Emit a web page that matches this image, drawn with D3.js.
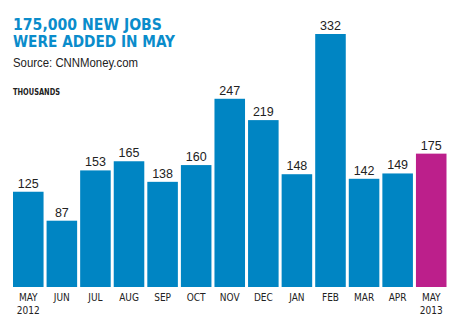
<!DOCTYPE html>
<html>
<head>
<meta charset="utf-8">
<script src="https://cdn.jsdelivr.net/npm/d3@7"></script>
<style>
  html, body { margin: 0; padding: 0; background: #fff; }
  svg { display: block; }
</style>
</head>
<body>
<svg id="chart" width="454" height="328"></svg>
<script>
// Monthly job gains, in thousands
const months = ["MAY", "JUN", "JUL", "AUG", "SEP", "OCT", "NOV", "DEC", "JAN", "FEB", "MAR", "APR", "MAY"];
const years  = ["2012", "", "", "", "", "", "", "", "", "", "", "", "2013"];
const jobs   = [125, 87, 153, 165, 138, 160, 247, 219, 148, 332, 142, 149, 175];

const blue = "#0085c3";
const magenta = "#bc1f8b";
const ink = "#222";
const condensed = "'DejaVu Sans Condensed', 'Liberation Sans Narrow', 'Roboto', sans-serif";

const svg = d3.select("#chart");
const data = months.map((m, i) => ({ key: i, month: m, year: years[i], value: jobs[i] }));

const x = d3.scaleBand()
  .domain(data.map(d => d.key))
  .range([13, 446.5])
  .paddingInner(0.09)
  .paddingOuter(0);

const y = d3.scaleLinear()
  .domain([0, d3.max(jobs)])
  .range([287, 34]);

// Headline
const title = svg.append("g").attr("font-family", condensed).attr("font-weight", "bold")
  .attr("fill", "#0a8ccb").attr("font-size", 15.5);
title.append("text").attr("x", 13).attr("y", 30)
  .attr("textLength", 149).attr("lengthAdjust", "spacingAndGlyphs").text("175,000 NEW JOBS");
title.append("text").attr("x", 13).attr("y", 47)
  .attr("textLength", 162).attr("lengthAdjust", "spacingAndGlyphs").text("WERE ADDED IN MAY");

svg.append("text").attr("x", 13).attr("y", 67)
  .attr("font-family", "'Liberation Sans', Arial, sans-serif").attr("font-size", 12.5)
  .attr("fill", ink).attr("textLength", 125).attr("lengthAdjust", "spacingAndGlyphs")
  .text("Source: CNNMoney.com");

svg.append("text").attr("x", 13).attr("y", 95)
  .attr("font-family", condensed).attr("font-weight", "bold").attr("font-size", 8)
  .attr("fill", ink).attr("textLength", 47).attr("lengthAdjust", "spacingAndGlyphs")
  .text("THOUSANDS");

// Bars
svg.append("g").selectAll("rect").data(data).join("rect")
  .attr("x", d => x(d.key))
  .attr("y", d => y(d.value))
  .attr("width", x.bandwidth())
  .attr("height", d => y(0) - y(d.value))
  .attr("fill", (d, i) => i === data.length - 1 ? magenta : blue);

// Value labels above bars
svg.append("g").selectAll("text").data(data).join("text")
  .attr("x", d => x(d.key) + x.bandwidth() / 2)
  .attr("y", d => y(d.value) - 4)
  .attr("text-anchor", "middle")
  .attr("font-family", "'Liberation Sans', Arial, sans-serif")
  .attr("font-size", 12.5)
  .attr("fill", ink)
  .text(d => d.value);

// Month axis labels
const axis = svg.append("g")
  .attr("font-family", condensed).attr("font-size", 10).attr("fill", ink)
  .attr("text-anchor", "middle");
axis.selectAll("text.m").data(data).join("text").attr("class", "m")
  .attr("x", d => x(d.key) + x.bandwidth() / 2)
  .attr("y", 301)
  .text(d => d.month);
axis.selectAll("text.yr").data(data.filter(d => d.year)).join("text").attr("class", "yr")
  .attr("x", d => x(d.key) + x.bandwidth() / 2)
  .attr("y", 314)
  .text(d => d.year);
</script>
</body>
</html>
